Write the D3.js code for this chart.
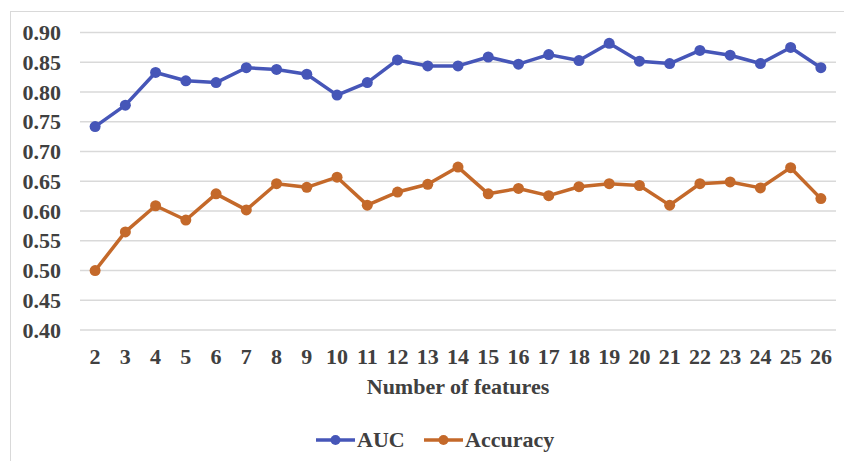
<!DOCTYPE html>
<html><head><meta charset="utf-8">
<script src="https://cdn.jsdelivr.net/npm/d3@7"></script>
<style>body{margin:0;background:#fff}svg{display:block}
svg text{font-family:"Liberation Serif","Times New Roman",Times,serif;font-weight:bold;fill:#404040;font-size:22px}</style>
</head><body>
<svg id="c" width="844" height="461"></svg>
<script>
const features = [2,3,4,5,6,7,8,9,10,11,12,13,14,15,16,17,18,19,20,21,22,23,24,25,26];
const auc = [0.741,0.777,0.832,0.818,0.815,0.840,0.837,0.829,0.794,0.815,0.853,0.843,0.843,0.858,0.846,0.862,0.852,0.881,0.851,0.847,0.869,0.861,0.847,0.874,0.840];
const accuracy = [0.499,0.564,0.608,0.584,0.628,0.601,0.645,0.639,0.656,0.609,0.631,0.644,0.673,0.628,0.637,0.625,0.640,0.645,0.642,0.609,0.645,0.648,0.638,0.672,0.620];
const yTicks = [0.40,0.45,0.50,0.55,0.60,0.65,0.70,0.75,0.80,0.85,0.90];
const seriesNames = ["AUC","Accuracy"];
const colors = ["#4656B8","#C4692A"];

const svg = d3.select("#c");
const L = 80, R = 836, T = 32, B = 329.5;

svg.append("rect").attr("x",10.5).attr("y",11.5).attr("width",840).attr("height",460)
  .attr("fill","none").attr("stroke","#d9d9d9").attr("stroke-width",1);

const x = d3.scaleBand().domain(features).range([L,R]).padding(0);
const y = d3.scaleLinear().domain([0.40,0.90]).range([B,T]);

const gy = svg.append("g").attr("transform",`translate(${L},0)`)
  .call(d3.axisLeft(y).tickValues(yTicks).tickSize(-(R-L)).tickFormat(d3.format(".2f")).tickPadding(19));
gy.attr("font-family",null).attr("font-size",null);
gy.select(".domain").remove();
gy.selectAll(".tick line").attr("stroke","#d9d9d9").attr("stroke-width",1.3);
gy.selectAll(".tick text").attr("dy","0.35em");

const gx = svg.append("g").attr("transform",`translate(0,${B})`)
  .call(d3.axisBottom(x).tickSize(0).tickPadding(0));
gx.attr("font-family",null).attr("font-size",null);
gx.select(".domain").remove();
gx.selectAll(".tick text").attr("y",34).attr("dy",0);

svg.append("text").attr("x",(L+R)/2).attr("y",394).attr("text-anchor","middle")
  .text("Number of features");

const data = [auc, accuracy];
const line = d3.line().x((d,i)=>x(features[i])+x.bandwidth()/2).y(d=>y(d));
data.forEach((vals,k)=>{
  svg.append("path").datum(vals).attr("d",line).attr("fill","none")
    .attr("stroke",colors[k]).attr("stroke-width",3.5).attr("stroke-linejoin","round");
  svg.append("g").selectAll("circle").data(vals).join("circle")
    .attr("cx",(d,i)=>x(features[i])+x.bandwidth()/2).attr("cy",d=>y(d)).attr("r",5.5).attr("fill",colors[k]);
});

const legX = [316, 424];
seriesNames.forEach((n,k)=>{
  const g = svg.append("g");
  g.append("line").attr("x1",legX[k]).attr("x2",legX[k]+39).attr("y1",440).attr("y2",440)
    .attr("stroke",colors[k]).attr("stroke-width",3.5);
  g.append("circle").attr("cx",legX[k]+19.5).attr("cy",440).attr("r",5).attr("fill",colors[k]);
  g.append("text").attr("x",legX[k]+41).attr("y",447).text(n);
});
</script>
</body></html>
